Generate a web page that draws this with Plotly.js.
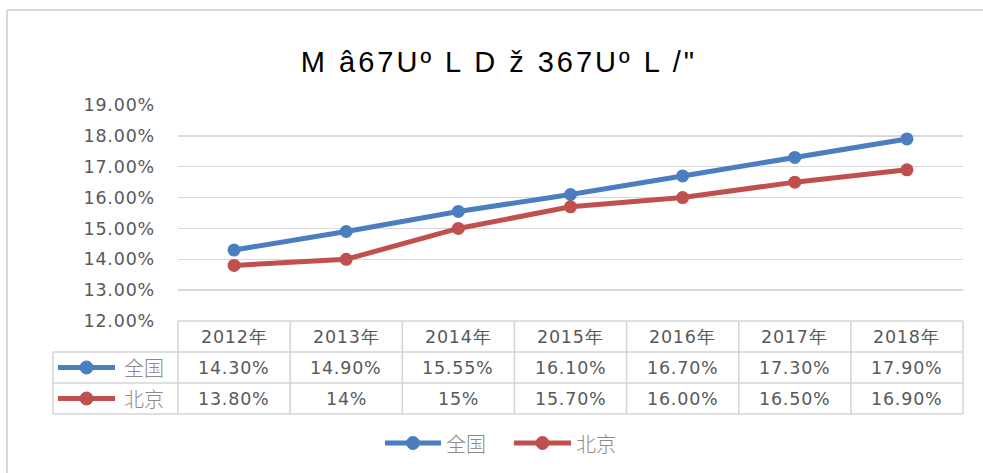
<!DOCTYPE html>
<html>
<head>
<meta charset="utf-8">
<script src="https://cdn.plot.ly/plotly-3.0.1.min.js"></script>
<style>html,body{margin:0;padding:0;background:#fff;}#chart{width:983px;height:473px;}</style>
</head>
<body>
<div id="chart"></div>
<script>
const titleText = 'M â67Uº L D ž 367Uº L /"';
const years = ['2012年','2013年','2014年','2015年','2016年','2017年','2018年'];
const seriesNames = ['全国','北京'];
const national = [14.30, 14.90, 15.55, 16.10, 16.70, 17.30, 17.90];
const beijing = [13.80, 14.00, 15.00, 15.70, 16.00, 16.50, 16.90];
const nationalLabels = ['14.30%','14.90%','15.55%','16.10%','16.70%','17.30%','17.90%'];
const beijingLabels = ['13.80%','14%','15%','15.70%','16.00%','16.50%','16.90%'];
const yTicks = [12,13,14,15,16,17,18,19];
const yTickLabels = ['12.00%','13.00%','14.00%','15.00%','16.00%','17.00%','18.00%','19.00%'];

const colors = ['#4a7ebf','#c0504d'];
const W = 983, H = 473;
const mL = 178, mR = 20, mT = 105, mB = 152;
const pw = W - mL - mR, ph = H - mT - mB;
const px = X => (X - mL) / pw;
const py = Y => (H - mB - Y) / ph;
const spaced = (s, sp) => '<span style="letter-spacing:' + sp + 'px">' + s + '</span>';
const wide = s => spaced(s, 0.8);

const gridC = '#d9d9d9', tblC = '#d4d4d4', txtC = '#595959';
const numFont = {family: 'DejaVu Sans', size: 17.5, color: txtC};
const cjkFont = {family: 'Noto Sans CJK SC', size: 20, color: '#8a8a8a', weight: 300};

const traces = [
  {x: years, y: national, name: seriesNames[0], type: 'scatter', mode: 'lines+markers',
   line: {color: colors[0], width: 5}, marker: {color: colors[0], size: 13}, cliponaxis: false},
  {x: years, y: beijing, name: seriesNames[1], type: 'scatter', mode: 'lines+markers',
   line: {color: colors[1], width: 5}, marker: {color: colors[1], size: 13}, cliponaxis: false}
];

const shapes = [];
const annotations = [];
// outer frame
shapes.push({type:'line', xref:'paper', yref:'paper', x0:px(7), x1:px(983), y0:py(10), y1:py(10), line:{color:'#d9d9d9', width:2}});
shapes.push({type:'line', xref:'paper', yref:'paper', x0:px(7), x1:px(7), y0:py(10), y1:py(473), line:{color:'#d9d9d9', width:2}});

// table
const tL = 53, tX0 = mL, tX1 = W - mR;
const rowY = [321, 352, 383, 414];
shapes.push({type:'line', xref:'paper', yref:'paper', x0:px(tX0), x1:px(tX1), y0:py(rowY[0]), y1:py(rowY[0]), line:{color:tblC, width:1.5}});
for (let r = 1; r < rowY.length; r++) {
  shapes.push({type:'line', xref:'paper', yref:'paper', x0:px(tL), x1:px(tX1), y0:py(rowY[r]), y1:py(rowY[r]), line:{color:tblC, width:1.5}});
}
shapes.push({type:'line', xref:'paper', yref:'paper', x0:px(tL), x1:px(tL), y0:py(rowY[1]), y1:py(rowY[3]), line:{color:tblC, width:1.5}});
for (let i = 0; i <= years.length; i++) {
  const X = tX0 + i * (tX1 - tX0) / years.length;
  shapes.push({type:'line', xref:'paper', yref:'paper', x0:px(X), x1:px(X), y0:py(rowY[0]), y1:py(rowY[3]), line:{color:tblC, width:1.5}});
}
years.forEach((yr, i) => {
  annotations.push({xref:'x', yref:'paper', x:yr, y:py((rowY[0]+rowY[1])/2), text:wide(yr), showarrow:false, font:numFont, xanchor:'center', yanchor:'middle'});
  annotations.push({xref:'x', yref:'paper', x:yr, y:py((rowY[1]+rowY[2])/2), text:wide(nationalLabels[i]), showarrow:false, font:numFont, xanchor:'center', yanchor:'middle'});
  annotations.push({xref:'x', yref:'paper', x:yr, y:py((rowY[2]+rowY[3])/2), text:wide(beijingLabels[i]), showarrow:false, font:numFont, xanchor:'center', yanchor:'middle'});
});
// legend-style keys: table row labels and bottom legend
function key(xs, xe, xt, Y, k) {
  const xm = (xs + xe) / 2;
  shapes.push({type:'line', xref:'paper', yref:'paper', x0:px(xs), x1:px(xe), y0:py(Y), y1:py(Y), line:{color:colors[k], width:5}});
  shapes.push({type:'circle', xref:'paper', yref:'paper', x0:px(xm-6.5), x1:px(xm+6.5), y0:py(Y-6.5), y1:py(Y+6.5), fillcolor:colors[k], line:{color:colors[k], width:1}});
  annotations.push({xref:'paper', yref:'paper', x:px(xt), y:py(Y), text:seriesNames[k], showarrow:false, font:cjkFont, xanchor:'left', yanchor:'middle'});
}
seriesNames.forEach((nm, k) => {
  key(58, 115, 122, (rowY[k+1] + rowY[k+2]) / 2, k);
});
key(385, 441, 444, 443, 0);
key(514, 571, 574, 443, 1);

const layout = {
  width: W, height: H,
  margin: {l: mL, r: mR, t: mT, b: mB, pad: 0},
  paper_bgcolor: '#ffffff', plot_bgcolor: '#ffffff',
  title: {text: spaced(titleText, 3), font: {family: 'Liberation Sans', size: 29, color: '#000'},
          x: 499 / W, xanchor: 'center', xref: 'container', y: 1 - 62/H, yref: 'container', yanchor: 'middle'},
  xaxis: {type: 'category', range: [-0.5, years.length - 0.5], showticklabels: false, showgrid: false,
          zeroline: false, showline: false, ticks: ''},
  yaxis: {range: [12, 19], tickvals: yTicks, ticktext: yTickLabels.map(wide), showgrid: true, gridcolor: gridC, gridwidth: 1.5,
          zeroline: false, showline: false, ticks: '', tickfont: numFont, ticklabelstandoff: 22},
  showlegend: false,
  shapes: shapes,
  annotations: annotations
};

Plotly.newPlot('chart', traces, layout, {displayModeBar: false, staticPlot: true});
</script>
</body>
</html>
